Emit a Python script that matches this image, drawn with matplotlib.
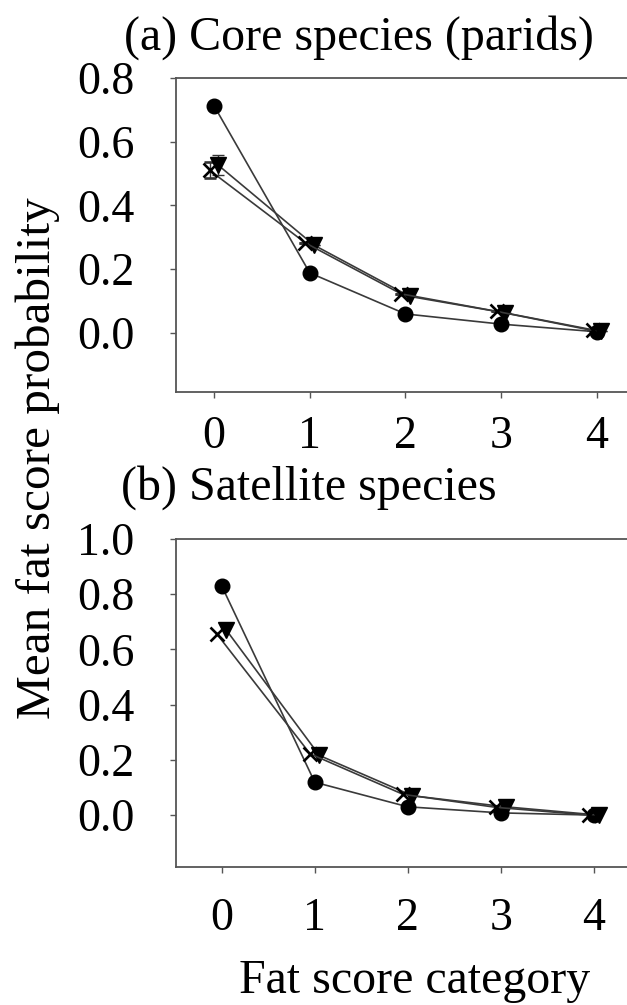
import numpy as np
import matplotlib
matplotlib.use('Agg')
import matplotlib.pyplot as plt

plt.rcParams['font.family'] = ['Liberation Serif', 'DejaVu Serif']

categories = [0, 1, 2, 3, 4]

# (a) core species (parids)
a_circle = [0.713, 0.188, 0.059, 0.027, 0.003]
a_circle_err = [0.012, 0, 0, 0, 0]
a_tri = [0.526, 0.275, 0.114, 0.062, 0.004]
a_tri_err = [0.032, 0, 0, 0, 0]
a_cross = [0.51, 0.282, 0.122, 0.067, 0.007]
a_cross_err = [0.025, 0, 0, 0, 0]

# (b) satellite species
b_circle = [0.83, 0.119, 0.03, 0.008, 0.0]
b_tri = [0.67, 0.216, 0.07, 0.03, 0.0]
b_cross = [0.655, 0.222, 0.075, 0.028, 0.0]

yticks_a = [0.0, 0.2, 0.4, 0.6, 0.8]
yticks_b = [0.0, 0.2, 0.4, 0.6, 0.8, 1.0]

FS = 33
line_c = '#3a3a3a'
spine_c = '#555555'

fig = plt.figure(figsize=(6.27, 10.05), dpi=100)
ax1 = fig.add_axes([0.2807, 0.6100, 0.729, 0.3124])
ax2 = fig.add_axes([0.2807, 0.1373, 0.729, 0.3264])

x = np.array(categories, dtype=float)


def draw(ax, off, circ, tri, cross, errs=None):
    if errs is None:
        errs = [None, None, None]
    ax.errorbar(x, circ, yerr=errs[0], color=line_c, lw=1.2, marker='o', ms=10.5,
                mfc='black', mec='black', capsize=4, elinewidth=1, ecolor='#333333', zorder=3)
    ax.errorbar(x + off, tri, yerr=errs[1], color=line_c, lw=1.2, marker='v', ms=11,
                mfc='black', mec='black', capsize=4, elinewidth=1, ecolor='#333333', zorder=3)
    ax.errorbar(x - off, cross, yerr=errs[2], color=line_c, lw=1.2, marker='x', ms=10,
                mew=1.9, mec='black', capsize=4, elinewidth=1, ecolor='#333333', zorder=3)
    ax.set_xticks(categories)
    ax.spines['right'].set_visible(False)
    for s in ['left', 'bottom', 'top']:
        ax.spines[s].set_color(spine_c)
        ax.spines[s].set_linewidth(1.3)
    ax.tick_params(axis='both', direction='out', length=4, width=1, color=spine_c, labelsize=FS)
    ax.tick_params(axis='y', pad=26)


draw(ax1, 0.045, a_circle, a_tri, a_cross, [a_circle_err, a_tri_err, a_cross_err])
ax1.set_xlim(-0.397, 4.378)
ax1.set_ylim(-0.186, 0.8)
ax1.set_yticks(yticks_a)
ax1.set_yticklabels(['%.1f' % v for v in yticks_a])
ax1.tick_params(axis='x', pad=13)

draw(ax2, 0.05, b_circle, b_tri, b_cross)
ax2.set_xlim(-0.491, 4.42)
ax2.set_ylim(-0.188, 1.0)
ax2.set_yticks(yticks_b)
ax2.set_yticklabels(['%.1f' % v for v in yticks_b])
ax2.tick_params(axis='x', pad=18)

fig.text(124 / 627, 1 - 50 / 1005, '(a) Core species (parids)', fontsize=34.5, ha='left', va='baseline')
fig.text(121 / 627, 1 - 500 / 1005, '(b) Satellite species', fontsize=34.5, ha='left', va='baseline')
fig.text(38 / 627, 1 - 458 / 1005, 'Mean fat score probability', fontsize=35.5,
         rotation=90, ha='center', va='center')
fig.text(415 / 627, 1 - 993 / 1005, 'Fat score category', fontsize=34.5, ha='center', va='baseline')

fig.savefig('out.png', dpi=100)
